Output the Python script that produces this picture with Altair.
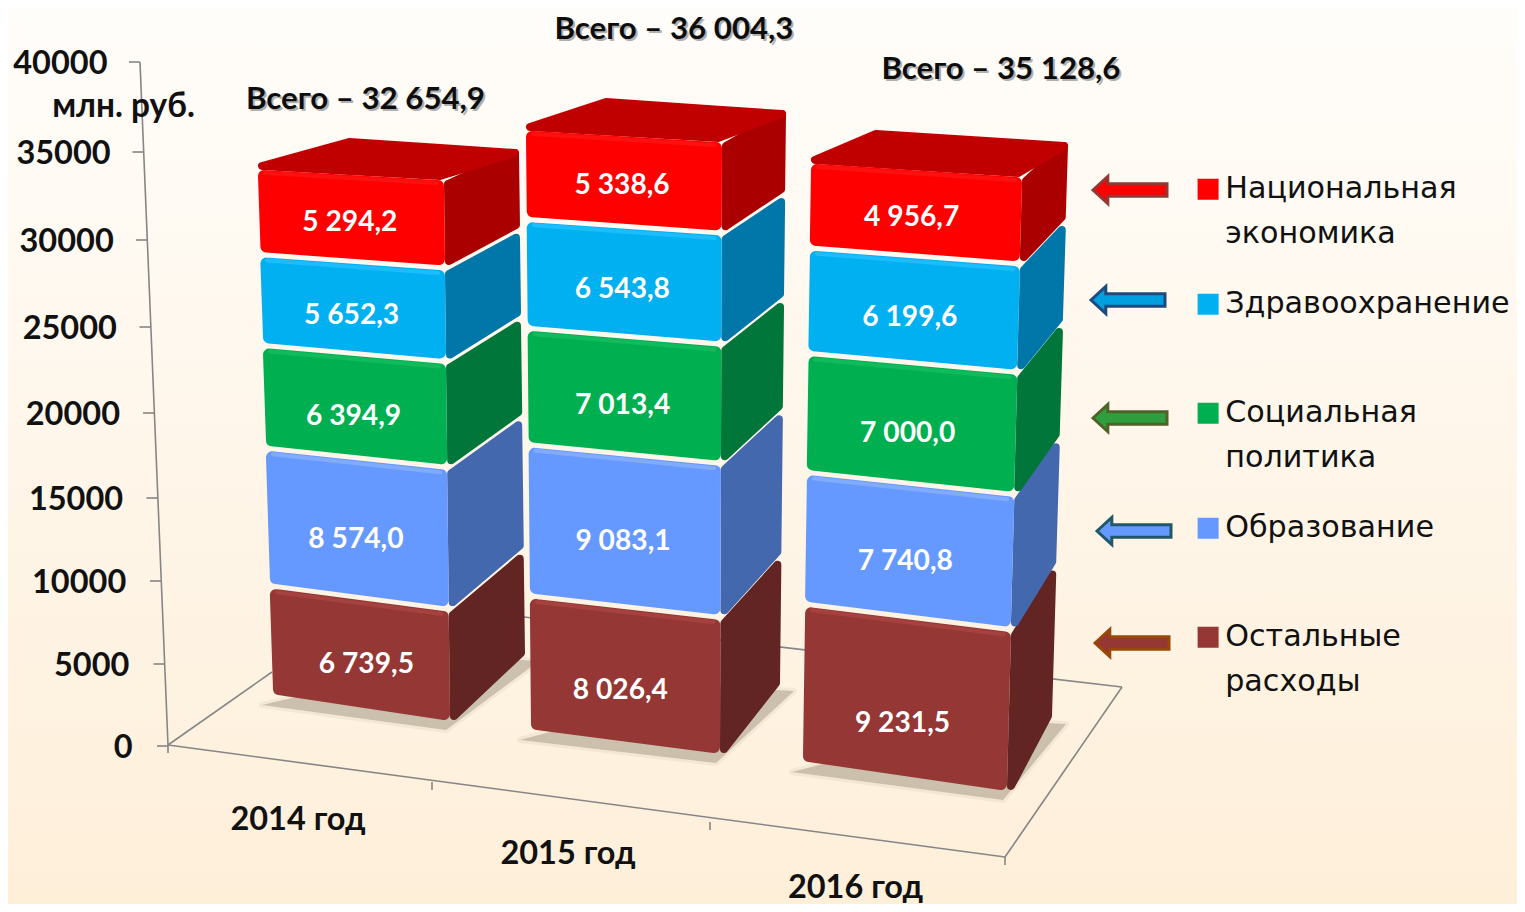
import altair as alt
import pandas as pd

W, H = 1509, 896
FONT = "Lato"

years = ["2014 год", "2015 год", "2016 год"]
categories = ["Остальные расходы", "Образование", "Социальная политика", "Здравоохранение", "Национальная экономика"]
other = [6739.5, 8026.4, 9231.5]
education = [8574.0, 9083.1, 7740.8]
social = [6394.9, 7013.4, 7000.0]
health = [5652.3, 6543.8, 6199.6]
economy = [5294.2, 5338.6, 4956.7]
series = [other, education, social, health, economy]
totals = [32654.9, 36004.3, 35128.6]
y_ticks = [0, 5000, 10000, 15000, 20000, 25000, 30000, 35000, 40000]

front_col = ["#953735", "#6699FF", "#00B050", "#00B0F0", "#FF0000"]
side_col = ["#632523", "#4468AE", "#00763A", "#0077A8", "#AA0000"]
bevel_col = ["#A5413E", "#80ABFF", "#10BB5D", "#1CBDFF", "#FF1010"]
arrow_fill = ["#953735", "#6699FF", "#2E9E3F", "#00A0E0", "#FF0000"]
arrow_edge = ["#984807", "#215868", "#4F6228", "#1F497D", "#953735"]

# ---- perspective calibration of the 3-D box of each year (page pixels) ----
# corner: (x_bottom, y_bottom, x_top, y_top)
BOX = [
    dict(FL=(273, 695, 258, 170), FR=(450, 720, 444, 180), BR=(525, 657, 519, 149), BLt=(345, 138)),
    dict(FL=(531, 730, 526, 131), FR=(720, 753, 722, 142), BR=(780, 687, 786, 110), BLt=(602, 98)),
    dict(FL=(803, 762, 811, 164), FR=(1007, 790, 1022, 177), BR=(1052, 720, 1068, 142), BLt=(872, 130)),
]
X_RANGE = [289.5, 559.5, 847.0]
Y_RANGE = [738, 656, 573, 490, 405, 319, 232, 144, 54]
LABEL_DX = [-2, -2, -4]
LABEL_DY = [[10, 15, 26], [10, 10, 10], [9, 9, 9], [7, 7, 7], [3, 3, 3]]


def to_x(px):
    r = X_RANGE
    return (px - r[0]) / (r[1] - r[0]) if px <= r[1] else 1 + (px - r[1]) / (r[2] - r[1])


def to_axis(py):
    r = Y_RANGE
    for k in range(len(r) - 1):
        if py >= r[k + 1] or k == len(r) - 2:
            return y_ticks[k] + (r[k] - py) / (r[k] - r[k + 1]) * (y_ticks[k + 1] - y_ticks[k])


def polygon_rows(verts, to_y, **extra):
    xs = sorted({round(v[0], 3) for v in verts})
    rows = []
    n = len(verts)
    for x in xs:
        ys = []
        for a in range(n):
            p, q = verts[a], verts[(a + 1) % n]
            lo, hi = min(p[0], q[0]), max(p[0], q[0])
            if lo - 1e-3 <= x <= hi + 1e-3:
                if abs(p[0] - q[0]) < 1e-3:
                    ys += [p[1], q[1]]
                else:
                    ys.append(p[1] + (q[1] - p[1]) * (x - p[0]) / (q[0] - p[0]))
        rows.append(dict(x=to_x(x), y=to_y(max(ys)), y2=to_y(min(ys)), **extra))
    return rows


def shrink(verts, d):
    cx = sum(v[0] for v in verts) / len(verts)
    cy = sum(v[1] for v in verts) / len(verts)
    return [(v[0] + (d if v[0] < cx else -d), v[1] + (d if v[1] < cy else -d)) for v in verts]


AXIS_SCALE = alt.Scale(domain=y_ticks, range=Y_RANGE, nice=False, zero=False)
X_SCALE = alt.Scale(domain=[0, 1, 2], range=X_RANGE, nice=False, zero=False)
XQ = alt.X("x:Q", scale=X_SCALE, axis=None)
legend_order = categories[::-1]
FILL_SCALE = alt.Scale(domain=legend_order, range=front_col[::-1])
LEGEND = alt.Legend(
    title=None, orient="none", legendX=1185, legendY=127, symbolType="square", symbolSize=441,
    symbolStrokeWidth=0, labelFont="DejaVu Sans", labelFontSize=30.2, labelColor="#111111", labelLimit=0,
    labelExpr="split(datum.label, ' ')", labelOffset=2, rowPadding=0, clipHeight=108.5, values=legend_order,
)


def year_chart(i):
    box = {k: tuple(c - 8 for c in v) for k, v in BOX[i].items()}
    tot = sum(s[i] for s in series)
    yb, yt = box["FL"][1], box["FL"][3]
    to_val = lambda py: (yb - py) / (yb - yt) * tot

    def P(name, v):
        xb, ybb, xt, ytt = box[name]
        f = v / tot
        return (xb + (xt - xb) * f, ybb + (ytt - ybb) * f)

    def BL(v):
        fl, fr, br = P("FL", v), P("FR", v), P("BR", v)
        f = v / tot
        return (box["BLt"][0], box["BLt"][1]) if f >= 1 else (fl[0] + br[0] - fr[0], fl[1] + br[1] - fr[1])

    sides, fronts, bevels, labels = [], [], [], []
    base = 0.0
    for c, s in enumerate(series):
        v0, v1 = base, base + s[i]
        base = v1
        g0 = 0 if c == 0 else 2.5
        g1 = 0 if c == len(series) - 1 else 2.5
        a, b, cc, d = P("FL", v0), P("FR", v0), P("FR", v1), P("FL", v1)
        e, f = P("BR", v0), P("BR", v1)
        a, b = (a[0], a[1] - g0), (b[0], b[1] - g0)
        cc, d = (cc[0], cc[1] + g1), (d[0], d[1] + g1)
        e, f = (e[0], e[1] - g0), (f[0], f[1] + g1)
        sides += polygon_rows(shrink([b, e, f, cc], 4), to_val, face=f"s{c}", color=side_col[c])
        if c == len(series) - 1:
            sides += polygon_rows(shrink([d, cc, f, BL(v1)], 4), to_val, face=f"t{c}", color="#C00000")
        fronts += polygon_rows(shrink([a, b, cc, d], 6), to_val, face=f"f{c}", category=categories[c])
        for pt in (d, cc):
            bevels.append(dict(x=to_x(pt[0] + (7 if pt is d else -7)), y=to_val(pt[1] + 3), face=f"b{c}", color=bevel_col[c]))
        mid = (v0 + v1) / 2
        ml, mr = P("FL", mid), P("FR", mid)
        extra = 8 if (c == 0 and i == 0) else (-3 if (c == 0 and i == 1) else 0)
        labels.append(dict(x=to_x((ml[0] + mr[0]) / 2 + LABEL_DX[i] + extra),
                           y=to_val((ml[1] + mr[1]) / 2 + 2 + LABEL_DY[c][i]),
                           text=f"{s[i]:,.1f}".replace(",", "\u00a0").replace(".", ",")))
    Y = alt.Y("y:Q", scale=alt.Scale(domain=[0, tot], range=[yb, yt], nice=False, zero=False), axis=None)
    side = alt.Chart(pd.DataFrame(sides)).mark_area(strokeWidth=8, strokeJoin="round").encode(
        x=XQ, y=Y, y2="y2:Q", fill=alt.Fill("color:N", scale=None), stroke=alt.Stroke("color:N", scale=None), detail="face:N")
    front = alt.Chart(pd.DataFrame(fronts)).mark_area(strokeWidth=12, strokeJoin="round").encode(
        x=XQ, y=Y, y2="y2:Q",
        fill=alt.Fill("category:N", scale=FILL_SCALE, legend=LEGEND),
        stroke=alt.Stroke("category:N", scale=FILL_SCALE, legend=None), detail="face:N")
    bevel = alt.Chart(pd.DataFrame(bevels)).mark_line(strokeWidth=4, strokeCap="round").encode(
        x=XQ, y=Y, detail="face:N", stroke=alt.Stroke("color:N", scale=None))
    text = alt.Chart(pd.DataFrame(labels)).mark_text(font=FONT, fontWeight="bold", fontSize=28.2, color="white").encode(
        x=XQ, y=Y, text="text:N")
    return alt.layer(side, front, bevel, text)


# ---- frame: slanted axis, ticks, floor ----
def P8(x, y):
    return to_x(x - 8), to_axis(y - 8)


def line(x0, y0, x1, y1):
    a, b = P8(x0, y0), P8(x1, y1)
    return dict(x=a[0], y=a[1], x2=b[0], y2=b[1])


def axis_x(v):
    return 168 - 28 * v / 40000


lines = [line(140, 62, 168, 745), line(168, 745, 1005, 857), line(1005, 857, 1122, 687),
         line(1122, 687, 524, 617), line(168, 745, 272, 672)]
for px, py in [(168, 745), (432, 782), (710, 822), (1005, 857)]:
    lines.append(line(px, py, px, py + 8))
for v in y_ticks:
    lines.append(dict(x=to_x(axis_x(v) - 8), x2=to_x(axis_x(v) - 19), y=v, y2=v))

frame = alt.Chart(pd.DataFrame(lines)).mark_rule(color="#868686", strokeWidth=1.6).encode(
    x=alt.X("x:Q", scale=X_SCALE, axis=alt.Axis(
        values=[0, 1, 2], title=None, domain=False, ticks=False, grid=False, offset=-90, zindex=1,
        labelExpr="['" + "','".join(years) + "'][datum.value]",
        labelFont=FONT, labelFontWeight="bold", labelFontSize=32.5, labelColor="#111111",
        labelFlush=False, labelOverlap=False, labelBaseline="middle",
        labelPadding={"condition": {"test": "true", "expr": "5 + datum.value * 34"}, "value": 0})),
    x2="x2:Q",
    y=alt.Y("y:Q", scale=AXIS_SCALE, axis=alt.Axis(
        values=y_ticks, format="d", domain=False, ticks=False, grid=False, offset=-140, zindex=1,
        title="млн. руб.", titleFont=FONT, titleFontWeight="bold", titleFontSize=33.4, titleColor="#111111",
        titleAngle=0, titleAlign="center", titleBaseline="middle", titleX=-25, titleY=98,
        labelFont=FONT, labelFontWeight="bold", labelFontSize=32.5, labelColor="#111111", labelOverlap=False,
        labelOffset=1.5,
        labelPadding={"condition": {"test": "true", "expr": "16 + datum.value * 0.000625"}, "value": 0})),
    y2="y2:Q",
)

# ---- soft floor shadows ----
shadow_rows = []
for i, b in enumerate(BOX):
    fl, fr, br = b["FL"], b["FR"], b["BR"]
    pts = [(fl[0] - 11 - 8, fl[1] + 10 - 8), (fr[0] - 4 - 8, fr[1] + 10 - 8), (br[0] + 14 - 8, br[1] + 4 - 8),
           (br[0] - 60 - 8, br[1] - 8)]
    shadow_rows += polygon_rows(pts, to_axis, face=f"sh{i}")
shadow = alt.Chart(pd.DataFrame(shadow_rows)).mark_area(
    color="#6f6650", opacity=0.35, stroke="#6f6650", strokeOpacity=0.2, strokeWidth=6, strokeJoin="round"
).encode(x=XQ, y=alt.Y("y:Q", scale=AXIS_SCALE, axis=None), y2="y2:Q", detail="face:N")

# ---- totals and arrows above the bars ----
total_pos = [(365.5, 100), (674, 30), (1001, 70)]
total_rows = []
for t, (px, py) in zip(totals, total_pos):
    x_, y_ = P8(px, py)
    total_rows.append(dict(x=x_, y=y_, text="Всего – " + f"{t:,.1f}".replace(",", "\u00a0").replace(".", ",")))
YA = alt.Y("y:Q", scale=AXIS_SCALE, axis=None)
total_text = alt.Chart(pd.DataFrame(total_rows)).mark_text(
    font=FONT, fontWeight="bold", fontSize=31.2, color="#0d0d0d").encode(x=XQ, y=YA, text="text:N")
total_shadow = alt.Chart(pd.DataFrame(total_rows)).mark_text(
    font=FONT, fontWeight="bold", fontSize=31.2, color="#555555", opacity=0.45, dx=2, dy=2).encode(x=XQ, y=YA, text="text:N")

arrow_pos = [(1132, 643), (1134, 531), (1130, 418), (1128, 300), (1130, 190)]
arrow_rows = []
for c, (px, py) in enumerate(arrow_pos):
    x_, y_ = P8(px, py)
    arrow_rows.append(dict(x=x_, y=y_, fill=arrow_fill[c], edge=arrow_edge[c]))
ARROW = "M-1,0 L-0.6,-0.37 L-0.6,-0.17 L1,-0.17 L1,0.17 L-0.6,0.17 L-0.6,0.37 Z"
arrows = alt.Chart(pd.DataFrame(arrow_rows)).mark_point(shape=ARROW, size=5476, filled=True, opacity=1, strokeWidth=3).encode(
    x=XQ, y=YA, fill=alt.Fill("fill:N", scale=None), stroke=alt.Stroke("edge:N", scale=None))

bg = alt.Chart(pd.DataFrame({"a": [0]})).mark_rect(
    fill=alt.LinearGradient(gradient="linear", x1=0, x2=0, y1=0, y2=1, stops=[
        alt.GradientStop(offset=0, color="#FFFDFA"), alt.GradientStop(offset=1, color="#FEEFD9")])
).encode(x=alt.value(0), x2=alt.value(W), y=alt.value(0), y2=alt.value(H))

chart = alt.layer(
    bg, frame, shadow, year_chart(0), year_chart(1), year_chart(2), total_shadow, total_text, arrows
).resolve_scale(x="independent", y="independent").properties(
    width=W, height=H, padding=0, autosize=alt.AutoSizeParams(type="none")
).configure_view(stroke=None).configure(style={"guide-label": {"lineHeight": 45}})

chart.save("out.html", embed_options={"renderer": "svg", "actions": False})
